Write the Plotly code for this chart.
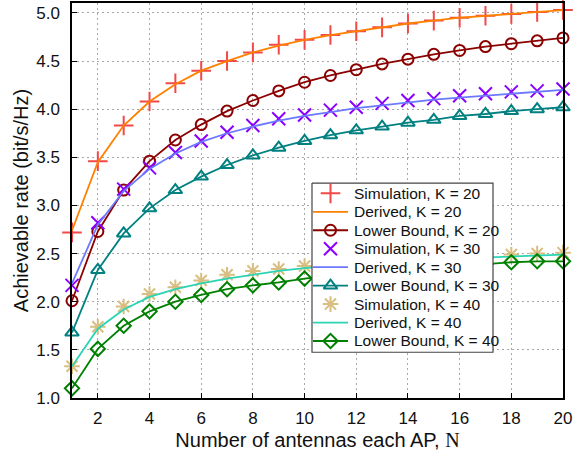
import plotly.graph_objects as go

# Number of antennas per AP
n_antennas = list(range(1, 21))

# K = 20 users
sim_k20 = [2.72, 3.46, 3.83, 4.08, 4.27, 4.40, 4.50, 4.59, 4.67, 4.72,
           4.77, 4.81, 4.85, 4.89, 4.92, 4.95, 4.97, 4.99, 5.01, 5.03]
der_k20 = [2.74, 3.45, 3.83, 4.08, 4.26, 4.40, 4.50, 4.59, 4.66, 4.72,
           4.77, 4.81, 4.85, 4.89, 4.92, 4.95, 4.97, 4.99, 5.01, 5.03]
lb_k20 = [2.01, 2.73, 3.16, 3.46, 3.68, 3.84, 3.98, 4.09, 4.19, 4.28,
          4.35, 4.41, 4.47, 4.52, 4.57, 4.61, 4.65, 4.68, 4.71, 4.74]

# K = 30 users
sim_k30 = [2.17, 2.82, 3.17, 3.39, 3.55, 3.67, 3.76, 3.83, 3.90, 3.94,
           3.99, 4.02, 4.06, 4.09, 4.11, 4.14, 4.16, 4.18, 4.19, 4.21]
der_k30 = [2.19, 2.80, 3.15, 3.38, 3.54, 3.66, 3.75, 3.82, 3.88, 3.93,
           3.97, 4.01, 4.04, 4.07, 4.10, 4.12, 4.14, 4.16, 4.18, 4.20]
lb_k30 = [1.68, 2.33, 2.71, 2.97, 3.16, 3.30, 3.42, 3.52, 3.60, 3.67,
          3.73, 3.78, 3.82, 3.86, 3.89, 3.93, 3.95, 3.98, 4.00, 4.02]

# K = 40 users
sim_k40 = [1.33, 1.74, 1.95, 2.08, 2.15, 2.22, 2.28, 2.32, 2.34, 2.37,
           2.39, 2.41, 2.43, 2.44, 2.46, 2.47, 2.48, 2.49, 2.50, 2.51]
der_k40 = [1.33, 1.72, 1.92, 2.05, 2.13, 2.19, 2.24, 2.28, 2.32, 2.35,
           2.37, 2.39, 2.41, 2.42, 2.43, 2.45, 2.46, 2.47, 2.48, 2.49]
lb_k40 = [1.10, 1.51, 1.75, 1.90, 2.00, 2.07, 2.13, 2.17, 2.20, 2.24,
          2.27, 2.30, 2.32, 2.34, 2.36, 2.38, 2.39, 2.41, 2.42, 2.42]

x_ticks = list(range(2, 21, 2))

FONT = "Liberation Sans, Arial, sans-serif"

# (name, values, mode, color, symbol, marker size)
series = [
    ("Simulation, K = 20", sim_k20, "markers", "#F24848", "cross-thin-open", 14),
    ("Derived, K = 20", der_k20, "lines", "#FF8000", None, 0),
    ("Lower Bound, K = 20", lb_k20, "lines+markers", "#8B0000", "circle-open", 11),
    ("Simulation, K = 30", sim_k30, "markers", "#8A00FF", "x-thin-open", 13),
    ("Derived, K = 30", der_k30, "lines", "#6B78FF", None, 0),
    ("Lower Bound, K = 30", lb_k30, "lines+markers", "#008080", "triangle-up-open", 12),
    ("Simulation, K = 40", sim_k40, "markers", "#D8BE80", "asterisk-open", 13),
    ("Derived, K = 40", der_k40, "lines", "#2AD4B4", None, 0),
    ("Lower Bound, K = 40", lb_k40, "lines+markers", "#008000", "diamond-open", 11),
]

fig = go.Figure()

for name, vals, mode, color, symbol, size in series:
    kw = dict(x=n_antennas, y=vals, mode=mode, name=name, showlegend=False,
              cliponaxis=False)
    if "lines" in mode:
        kw["line"] = dict(color=color, width=1.8)
    if "markers" in mode:
        kw["marker"] = dict(symbol=symbol, size=size, color=color,
                            line=dict(color=color, width=2))
    fig.add_trace(go.Scatter(**kw))

# Legend drawn on an overlay axis measured in figure pixels
L_LEFT, L_RIGHT, L_TOP, L_BOTTOM = 312, 493, 182, 352
first_row, row_step = 192.3, 18.55
fig.add_trace(go.Scatter(
    x=[L_LEFT, L_RIGHT, L_RIGHT, L_LEFT, L_LEFT],
    y=[L_TOP, L_TOP, L_BOTTOM, L_BOTTOM, L_TOP],
    mode="lines", fill="toself", fillcolor="white",
    line=dict(color="#444444", width=1.2),
    xaxis="x2", yaxis="y2", showlegend=False, hoverinfo="skip"))

annotations = []
for i, (name, vals, mode, color, symbol, size) in enumerate(series):
    yc = first_row + i * row_step
    if "lines" in mode:
        fig.add_trace(go.Scatter(
            x=[L_LEFT + 1, L_LEFT + 36], y=[yc, yc], mode="lines",
            line=dict(color=color, width=1.8), xaxis="x2", yaxis="y2",
            showlegend=False, hoverinfo="skip"))
    if "markers" in mode:
        fig.add_trace(go.Scatter(
            x=[L_LEFT + 18.5], y=[yc], mode="markers",
            marker=dict(symbol=symbol, size=size, color=color,
                        line=dict(color=color, width=2)),
            xaxis="x2", yaxis="y2", showlegend=False, hoverinfo="skip"))
    annotations.append(dict(
        x=L_LEFT + 40, y=yc, xref="x2", yref="y2", text=name,
        showarrow=False, xanchor="left", yanchor="middle",
        font=dict(family=FONT, size=15.5, color="#111111")))

grid = dict(showgrid=True, gridcolor="#A8A8A8", gridwidth=1, griddash="2px,3px",
            showline=True, linecolor="black", linewidth=1.5, mirror=True,
            ticks="inside", ticklen=5, tickcolor="black", tickwidth=1,
            zeroline=False,
            tickfont=dict(family=FONT, size=17, color="#111111"))

fig.update_layout(
    width=585, height=462,
    margin=dict(l=72, r=22, t=1, b=64),
    paper_bgcolor="white", plot_bgcolor="white",
    showlegend=False,
    font=dict(family=FONT, color="#111111"),
    xaxis=dict(range=[1, 20], tickvals=x_ticks, ticklabelstandoff=4,
               title=dict(text="Number of antennas each AP, "
                               "<span style=\"font-family:'Liberation Serif'\">N</span>",
                          font=dict(family=FONT, size=20), standoff=6),
               **grid),
    yaxis=dict(range=[1, 5.103], tick0=1, dtick=0.5, tickformat=".1f",
               ticklabelstandoff=7,
               title=dict(text="Achievable rate (bit/s/Hz)",
                          font=dict(family=FONT, size=20), standoff=2),
               **grid),
    xaxis2=dict(overlaying="x", range=[72, 563], visible=False, fixedrange=True),
    yaxis2=dict(overlaying="y", range=[398, 1], visible=False, fixedrange=True),
    annotations=annotations,
)

fig.write_html("out.html")
